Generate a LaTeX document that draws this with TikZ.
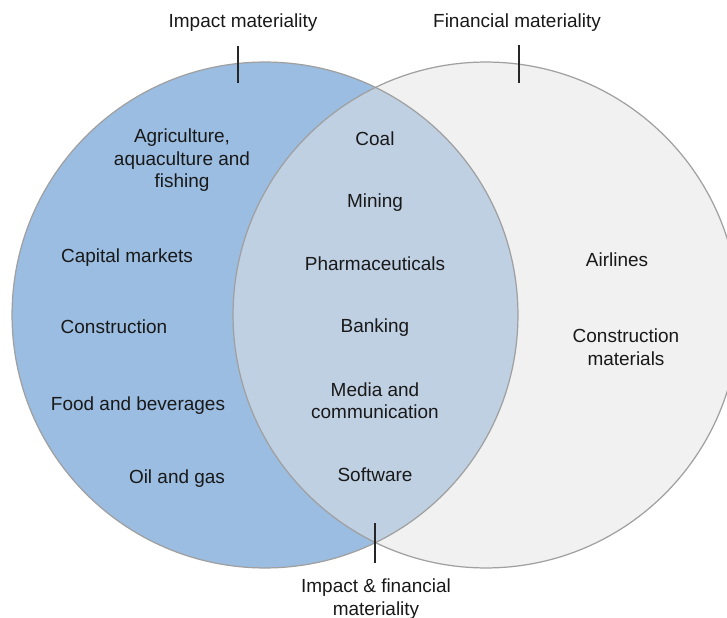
\documentclass[tikz,border=0pt]{standalone}
\usepackage{fontspec}
\setmainfont{Liberation Sans}
\usetikzlibrary{calc,backgrounds}

\begin{document}
\begin{tikzpicture}[x=0.02cm,y=-0.02cm,font=\fontsize{10.8}{12.9}\selectfont]
\tikzset{sector/.style={align=center,text=black!90,yshift=-1.2pt},
  tick/.style={draw=black!85,line width=0.6pt},
  rim/.style={draw=rimgray,line width=0.7pt}}
\colorlet{impact}{rgb,255:red,154;green,189;blue,225}
\colorlet{financial}{rgb,255:red,241;green,241;blue,241}
\colorlet{both}{rgb,255:red,191;green,208;blue,227}
\colorlet{rimgray}{rgb,255:red,160;green,160;blue,160}
\def\rad{5.06cm}

\useasboundingbox (0,0) rectangle (727,618);
\coordinate (I) at (265,315);
\coordinate (F) at (486,315);

% the two circles and their overlap
\fill[impact] (I) circle (\rad);
\fill[financial] (F) circle (\rad);
\begin{scope}
\clip (I) circle (\rad);
\fill[both] (F) circle (\rad);
\end{scope}
\draw[rim] (I) circle (\rad);
\draw[rim] (F) circle (\rad);

% headings and their ticks
\node[sector] (impactHead) at (243,20) {Impact materiality};
\node[sector] (financialHead) at (517,20) {Financial materiality};
\node[sector] (bothHead) at (376,597) {Impact \& financial\\materiality};
\coordinate (i1) at (238,46); \coordinate (i2) at (238,83);
\coordinate (f1) at (519,45); \coordinate (f2) at (519,83);
\coordinate (b1) at (375,523); \coordinate (b2) at (375,563);
\draw[tick] (i1)--(i2);
\draw[tick] (f1)--(f2);
\draw[tick] (b1)--(b2);

% impact only
\node[sector] (agri) at (182,158) {Agriculture,\\aquaculture and\\fishing};
\node[sector] (capital) at (127,255) {Capital markets};
\node[sector] (constr) at (114,325) {Construction};
\node[sector] (food) at (138,403) {Food and beverages};
\node[sector] (oil) at (177,476) {Oil and gas};

% impact and financial
\foreach \name/\y/\txt in {coal/137/Coal,mining/200/Mining,
  pharma/262/Pharmaceuticals,banking/325/Banking,
  media/398.5/{Media and\\communication},software/473/Software}
  \node[sector] (\name) at (375,\y) {\txt};

% financial only
\node[sector] (airlines) at (617,258) {Airlines};
\node[sector] (materials) at (626,345) {Construction\\materials};
\end{tikzpicture}
\end{document}
